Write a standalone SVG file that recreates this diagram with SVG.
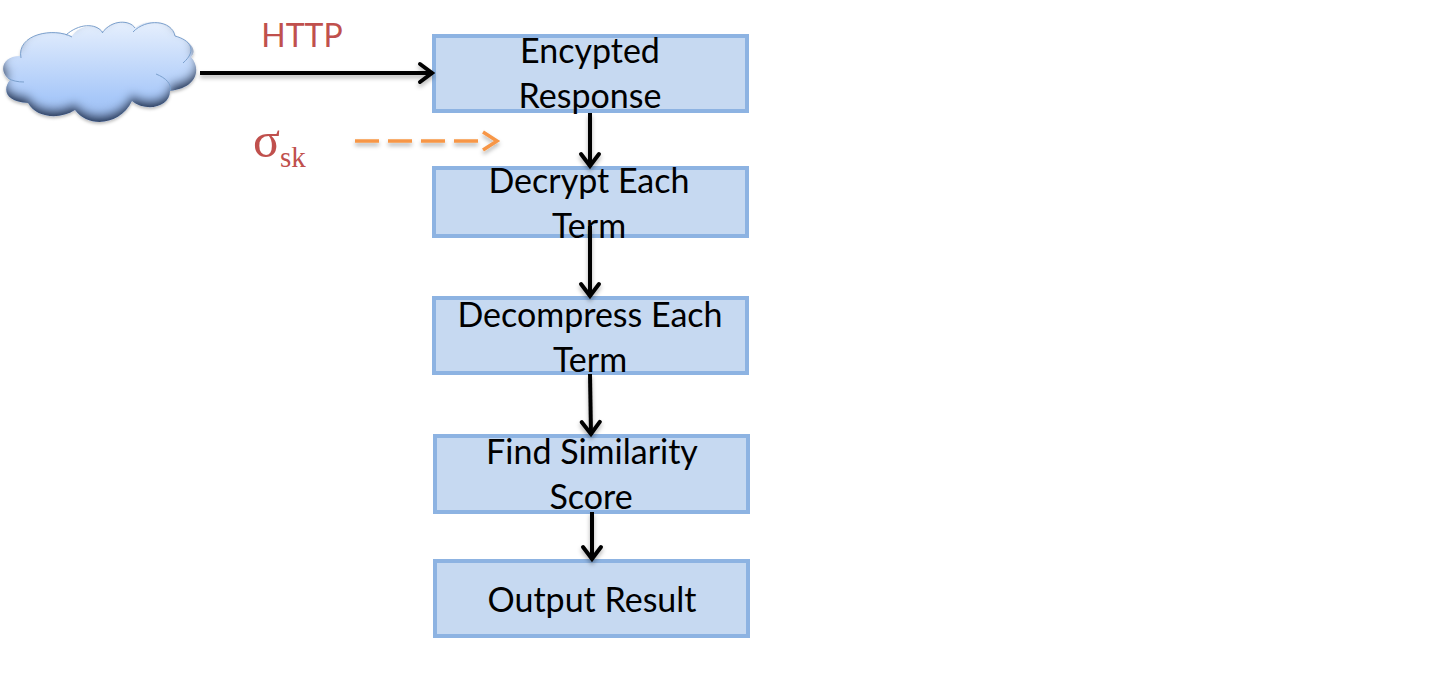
<svg xmlns="http://www.w3.org/2000/svg" width="1432" height="693" viewBox="0 0 1432 693">
<style>
.box{fill:#c6d9f1;stroke:#8db3e2;stroke-width:4}
.t{font-family:"Lato","Liberation Sans",sans-serif;font-size:34px;fill:#000;text-anchor:middle}
.c{fill:none;stroke:#000;stroke-width:4}
.lobe{fill:none;stroke:#7ba0cd;stroke-width:1}
</style>
<defs>
<linearGradient id="cg" x1="0" y1="0" x2="0" y2="1"><stop offset="0" stop-color="#e6effd"/><stop offset="0.75" stop-color="#a9c9f9"/><stop offset="1" stop-color="#9dbdf0"/></linearGradient>
<filter id="sh" filterUnits="userSpaceOnUse" x="0" y="0" width="1432" height="693"><feDropShadow dx="0" dy="3" stdDeviation="2" flood-color="#000" flood-opacity="0.3"/></filter>
<filter id="inner" filterUnits="userSpaceOnUse" x="0" y="0" width="220" height="140">
<feGaussianBlur in="SourceAlpha" stdDeviation="5" result="b"/>
<feOffset in="b" dy="-7" result="o"/>
<feComposite in="SourceAlpha" in2="o" operator="out" result="e"/>
<feFlood flood-color="#26395c" flood-opacity="1"/>
<feComposite in2="e" operator="in" result="s"/>
<feDropShadow in="SourceGraphic" dx="0" dy="2" stdDeviation="1.5" flood-color="#000" flood-opacity="0.25" result="g"/>
<feMerge><feMergeNode in="g"/><feMergeNode in="s"/></feMerge>
</filter>
<marker id="a" markerUnits="userSpaceOnUse" markerWidth="24" markerHeight="24" refX="19" refY="12" orient="auto"><path d="M6 3L18 12L6 21" fill="none" stroke="#000" stroke-width="4" stroke-linecap="round"/></marker>
</defs>
<g id="cloud">
<path filter="url(#inner)" fill="url(#cg)" d="M20 56C20 34 54 27 72 36C78 26 96 22 103 32C112 19 130 20 135 28C146 18 172 20 175 36C190 40 198 50 191 57C201 68 198 88 170 91C170 108 145 112 132 101C120 126 88 128 75 110C60 120 36 118 28 103C6 102 2 90 10 80C-2 72 2 56 20 56Z"/>
<path class="lobe" d="M21 58C16 34 54 27 72 37M66 35C78 24 96 22 103 33M102 33C112 19 130 20 135 28M133 32C146 18 172 20 175 36C190 40 198 50 183 63M156 74C166 78 172 84 170 91M8 78C12 81 18 82 24 82"/>
</g>
<g id="labels">
<text x="302" y="47" font-family="Lato,'Liberation Sans',sans-serif" font-size="32" fill="#c0504d" text-anchor="middle">HTTP</text>
<text x="253" y="157" font-family="'Liberation Serif',serif" font-size="50" fill="#c0504d">σ<tspan font-size="29" dy="10">sk</tspan></text>
</g>
<g id="n1"><rect class="box" x="434" y="36" width="313" height="75"/><text class="t" x="590" y="63">Encypted</text><text class="t" x="590" y="108">Response</text></g>
<g id="n2"><rect class="box" x="434" y="168" width="313" height="68"/><text class="t" x="589" y="193">Decrypt Each</text><text class="t" x="589" y="238">Term</text></g>
<g id="n3"><rect class="box" x="434" y="298" width="313" height="75"/><text class="t" x="590" y="327">Decompress Each</text><text class="t" x="590" y="372">Term</text></g>
<g id="n4"><rect class="box" x="435" y="436" width="313" height="76"/><text class="t" x="592" y="464">Find Similarity</text><text class="t" x="591" y="509">Score</text></g>
<g id="n5"><rect class="box" x="435" y="561" width="313" height="75"/><text class="t" x="592" y="612">Output Result</text></g>
<g id="connectors" filter="url(#sh)">
<path class="c" marker-end="url(#a)" d="M200 73H433"/>
<path class="c" marker-end="url(#a)" d="M590 113V167"/>
<path class="c" marker-end="url(#a)" d="M590 226V297"/>
<path class="c" marker-end="url(#a)" d="M590 374L591 435"/>
<path class="c" marker-end="url(#a)" d="M592 512V560"/>
<path fill="none" stroke="#f79646" stroke-width="3.5" stroke-dasharray="24 9" d="M355 141H478"/>
<path fill="none" stroke="#f79646" stroke-width="3.5" d="M483 132L497 141L483 150"/>
</g>
</svg>
